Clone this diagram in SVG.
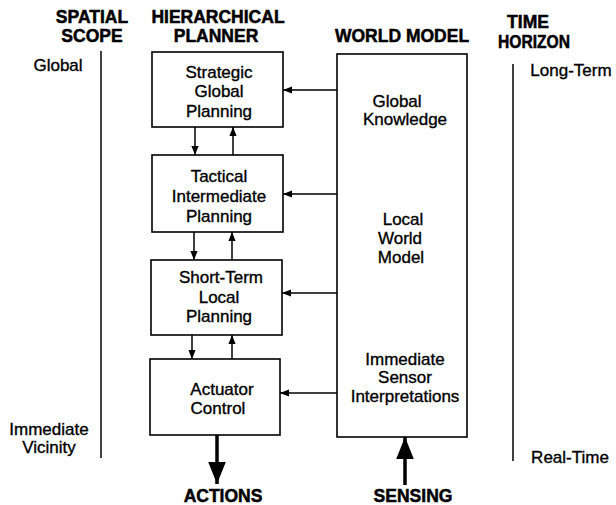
<svg xmlns="http://www.w3.org/2000/svg" width="616" height="505" viewBox="0 0 616 505">
<defs>
<style>
.box{fill:#fff;stroke:#000;stroke-width:1.6}
.ln{stroke:#000;stroke-width:1.5;fill:none}
.thick{stroke:#000;stroke-width:3.5;fill:none}
.t{font-family:"Liberation Sans",Arial,sans-serif;font-size:17px;fill:#000;text-anchor:middle;stroke:#000;stroke-width:0.35}
.h{font-family:"Liberation Sans",Arial,sans-serif;font-size:17.5px;font-weight:bold;fill:#000;text-anchor:middle;stroke:#000;stroke-width:0.5}
</style>
<marker id="a" viewBox="0 0 10 10" refX="10" refY="5" markerWidth="9" markerHeight="9" markerUnits="userSpaceOnUse" orient="auto"><path d="M0,1 L10,5 L0,9 Z" fill="#000"/></marker>
<marker id="b" viewBox="0 0 10 10" refX="10" refY="5" markerWidth="22" markerHeight="22" markerUnits="userSpaceOnUse" orient="auto"><path d="M0,1 L10,5 L0,9 Z" fill="#000"/></marker>
</defs>
<rect width="616" height="505" fill="#fff"/>
<g id="headers">
<text class="h" x="92" y="23">SPATIAL</text>
<text class="h" x="92" y="42">SCOPE</text>
<text class="h" x="218" y="23">HIERARCHICAL</text>
<text class="h" x="216" y="42">PLANNER</text>
<text class="h" x="402" y="42">WORLD MODEL</text>
<text class="h" x="528" y="28">TIME</text>
<text class="h" x="534" y="48" textLength="72" lengthAdjust="spacingAndGlyphs">HORIZON</text>
</g>
<g id="scales">
<line class="ln" x1="101" y1="51" x2="101" y2="458"/>
<text class="t" x="58" y="71">Global</text>
<text class="t" x="49" y="435">Immediate</text>
<text class="t" x="49" y="453">Vicinity</text>
<line class="ln" x1="513" y1="64" x2="513" y2="461"/>
<text class="t" x="571" y="76">Long-Term</text>
<text class="t" x="570" y="463">Real-Time</text>
</g>
<g id="strategic">
<rect class="box" x="152" y="52" width="131" height="75"/>
<text class="t" x="219" y="78">Strategic</text>
<text class="t" x="219" y="97">Global</text>
<text class="t" x="219" y="117">Planning</text>
</g>
<g id="tactical">
<rect class="box" x="152" y="155" width="131" height="77"/>
<text class="t" x="219" y="182">Tactical</text>
<text class="t" x="219" y="202">Intermediate</text>
<text class="t" x="219" y="222">Planning</text>
</g>
<g id="shortterm">
<rect class="box" x="151" y="260" width="131" height="75"/>
<text class="t" x="221" y="283">Short-Term</text>
<text class="t" x="219" y="303">Local</text>
<text class="t" x="219" y="322">Planning</text>
</g>
<g id="actuator">
<rect class="box" x="150" y="359" width="130" height="76"/>
<text class="t" x="222" y="395">Actuator</text>
<text class="t" x="218" y="414">Control</text>
</g>
<g id="worldmodel">
<rect class="box" x="337" y="54" width="130" height="383"/>
<text class="t" x="397" y="107">Global</text>
<text class="t" x="405" y="125">Knowledge</text>
<text class="t" x="403" y="225">Local</text>
<text class="t" x="400" y="244">World</text>
<text class="t" x="401" y="263">Model</text>
<text class="t" x="405" y="365">Immediate</text>
<text class="t" x="405" y="383">Sensor</text>
<text class="t" x="405" y="402">Interpretations</text>
</g>
<g id="connectors">
<line class="ln" x1="195" y1="127" x2="195" y2="155" marker-end="url(#a)"/>
<line class="ln" x1="233" y1="155" x2="233" y2="127" marker-end="url(#a)"/>
<line class="ln" x1="194" y1="232" x2="194" y2="260" marker-end="url(#a)"/>
<line class="ln" x1="232" y1="260" x2="232" y2="232" marker-end="url(#a)"/>
<line class="ln" x1="192" y1="335" x2="192" y2="359" marker-end="url(#a)"/>
<line class="ln" x1="232" y1="359" x2="232" y2="335" marker-end="url(#a)"/>
<line class="ln" x1="337" y1="90" x2="283" y2="90" marker-end="url(#a)"/>
<line class="ln" x1="337" y1="194" x2="283" y2="194" marker-end="url(#a)"/>
<line class="ln" x1="337" y1="293" x2="282" y2="293" marker-end="url(#a)"/>
<line class="ln" x1="337" y1="393" x2="280" y2="393" marker-end="url(#a)"/>
<line class="thick" x1="217" y1="435" x2="217" y2="484" marker-end="url(#b)"/>
<line class="thick" x1="405" y1="485" x2="405" y2="437" marker-end="url(#b)"/>
</g>
<g id="io">
<text class="h" x="223" y="502">ACTIONS</text>
<text class="h" x="413" y="502">SENSING</text>
</g>
</svg>
